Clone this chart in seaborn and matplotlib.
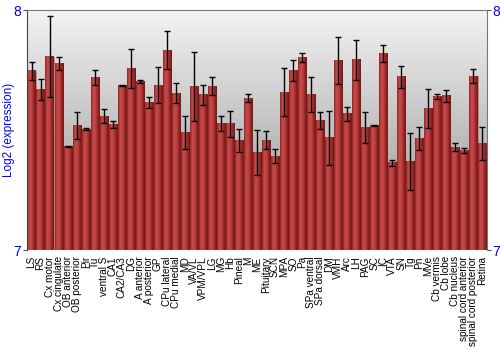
import numpy as np
import pandas as pd
import matplotlib
matplotlib.use("Agg")
import matplotlib.pyplot as plt
from matplotlib.colors import LinearSegmentedColormap
import seaborn as sns

regions = ["LS", "RS", "Cx motor", "Cx cingulate", "OB anterior", "OB posterior", "Pir", "Tu",
           "ventral S", "CA1", "CA2/CA3", "DG", "A anterior", "A posterior", "GP", "CPu lateral",
           "CPu medial", "MD", "VA/VL", "VPM/VPL", "LG", "MG", "Hb", "Pineal", "M", "ME",
           "Pituitary", "SCN", "MPA", "SO", "Pa", "SPa ventral", "SPa dorsal", "DM", "VMH", "Arc",
           "LH", "PAG", "SC", "IC", "VTA", "SN", "Tg", "Pn", "MVe", "Cb vermis", "Cb lobe",
           "Cb nucleus", "spinal cord anterior", "spinal cord posterior", "Retina"]
values = [7.746, 7.669, 7.806, 7.776, 7.433, 7.517, 7.504, 7.717, 7.558, 7.524, 7.685, 7.756,
          7.703, 7.615, 7.686, 7.833, 7.653, 7.489, 7.683, 7.646, 7.682, 7.528, 7.526, 7.456,
          7.632, 7.408, 7.458, 7.390, 7.658, 7.749, 7.803, 7.646, 7.540, 7.467, 7.790, 7.568,
          7.793, 7.510, 7.519, 7.818, 7.363, 7.721, 7.369, 7.464, 7.589, 7.638, 7.643, 7.428,
          7.415, 7.724, 7.443]
errors = [0.036, 0.044, 0.169, 0.028, 0.002, 0.056, 0.003, 0.031, 0.028, 0.015, 0.003, 0.083,
          0.006, 0.024, 0.075, 0.078, 0.042, 0.069, 0.144, 0.040, 0.037, 0.032, 0.054, 0.048,
          0.016, 0.094, 0.039, 0.029, 0.099, 0.044, 0.019, 0.073, 0.037, 0.111, 0.099, 0.029,
          0.083, 0.065, 0.002, 0.036, 0.014, 0.047, 0.117, 0.049, 0.081, 0.010, 0.025, 0.017,
          0.012, 0.029, 0.069]
y_ticks = [7, 8]

df = pd.DataFrame({"region": regions, "value": values, "err": errors})

sns.set_style("white")
plt.rcParams["font.family"] = ["Liberation Sans", "DejaVu Sans"]

fig = plt.figure(figsize=(5, 3.5), dpi=100)
ax = fig.add_axes([27 / 500, 1 - 250 / 350, 460 / 500, 240 / 350])

sns.barplot(data=df, x="region", y="value", ax=ax, color="#b83a3a", width=0.9,
            edgecolor="#c88a8a", linewidth=0.4, errorbar=None, zorder=2)

ymin, ymax = y_ticks[0], y_ticks[-1]
ax.set_xlim(-0.5, len(regions) - 0.5)
ax.set_ylim(ymin, ymax)

# bar shading (cylinder look)
bar_cmap = LinearSegmentedColormap.from_list(
    "bar", ["#8e2424", "#c84a4a", "#c04444", "#962828", "#741616"])
grad_h = np.linspace(0, 1, 64).reshape(1, -1)
for p in list(ax.patches):
    x0, w = p.get_x(), p.get_width()
    top = p.get_y() + p.get_height()
    ax.imshow(grad_h, cmap=bar_cmap, extent=[x0, x0 + w, ymin, top],
              aspect="auto", zorder=2.5, interpolation="bilinear")

ax.errorbar(x=np.arange(len(regions)), y=df["value"], yerr=df["err"], fmt="none",
            ecolor="black", elinewidth=1.0, capsize=2.0, capthick=1.0, zorder=4)

# background gradient
bg_cmap = LinearSegmentedColormap.from_list("bg", ["#8e8e8e", "#f3f3f3"])
grad_v = np.linspace(0, 1, 256).reshape(-1, 1)
ax.imshow(grad_v, cmap=bg_cmap, extent=[0, 1, 0, 1], transform=ax.transAxes,
          aspect="auto", origin="lower", zorder=0)

ax.set_xlim(-0.5, len(regions) - 0.5)
ax.set_ylim(ymin, ymax)
ax.set_yticks(y_ticks)
ax.set_yticklabels([str(t) for t in y_ticks])
ax.tick_params(axis="y", left=True, right=True, labelleft=True, labelright=True,
               length=3, width=0.8, color="#555555", labelcolor="#0000ff",
               labelsize=10, pad=1)
ax.tick_params(axis="x", bottom=False, labelsize=7.2, pad=1, labelcolor="#000000")
for lbl in ax.get_xticklabels():
    lbl.set_rotation(90)
ax.set_xlabel("")
ax.set_ylabel("Log2 (expression)", color="#0000ff", fontsize=8.5)
ax.yaxis.set_label_coords(-0.026, 0.5)

for side in ["left", "right", "top"]:
    ax.spines[side].set_visible(True)
    ax.spines[side].set_linewidth(0.8)
ax.spines["left"].set_color("#444444")
ax.spines["right"].set_color("#777777")
ax.spines["top"].set_color("#777777")
ax.spines["bottom"].set_visible(False)

fig.savefig("out.png", dpi=100)
